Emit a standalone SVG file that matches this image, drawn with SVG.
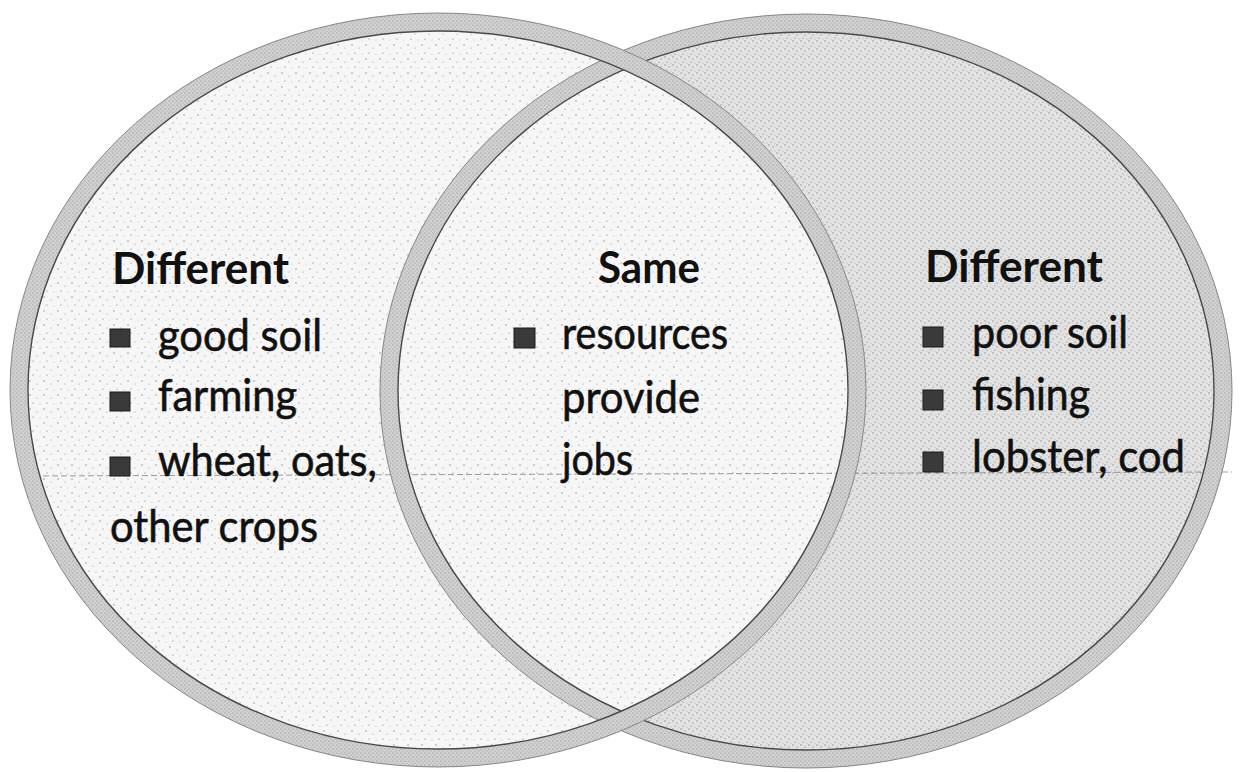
<svg xmlns="http://www.w3.org/2000/svg" width="1241" height="772" viewBox="0 0 1241 772">
<style>
  .hd { font-family: Lato, "Open Sans", "Liberation Sans", sans-serif; font-weight: 700; font-size: 44px; fill: #111; }
  .tx { font-family: Lato, "Open Sans", "Liberation Sans", sans-serif; font-weight: 400; font-size: 44px; fill: #111; stroke: #111; stroke-width: 0.6; }
  .bul { fill: #3a3a3a; stroke: #1a1a1a; stroke-width: 1; }
  .edge { fill: none; stroke: #4a4a4a; stroke-width: 1.4; }
  .edge2 { fill: none; stroke: #888; stroke-width: 1; }
</style>
<defs>
  <pattern id="dotsLight" width="14" height="14" patternUnits="userSpaceOnUse">
    <rect width="14" height="14" fill="#f6f6f6"/>
    <circle cx="2" cy="3" r="0.7" fill="#888"/>
    <circle cx="9" cy="6" r="0.6" fill="#999"/>
    <circle cx="5" cy="11" r="0.6" fill="#777"/>
    <circle cx="12" cy="12" r="0.5" fill="#aaa"/>
  </pattern>
  <pattern id="dotsDark" width="8" height="8" patternUnits="userSpaceOnUse">
    <rect width="8" height="8" fill="#e2e2e2"/>
    <circle cx="1" cy="1" r="0.7" fill="#888"/>
    <circle cx="5" cy="3" r="0.7" fill="#999"/>
    <circle cx="3" cy="6" r="0.6" fill="#777"/>
    <circle cx="7" cy="7" r="0.5" fill="#aaa"/>
  </pattern>
  <pattern id="bandDots" width="4" height="4" patternUnits="userSpaceOnUse">
    <rect width="4" height="4" fill="#d0d0d0"/>
    <circle cx="1" cy="1" r="0.6" fill="#8a8a8a"/>
    <circle cx="3" cy="3" r="0.5" fill="#9a9a9a"/>
  </pattern>
  <clipPath id="clipLeft">
    <ellipse cx="438" cy="390" rx="428" ry="377"/>
  </clipPath>
</defs>

<g id="right-circle">
  <ellipse cx="806" cy="391" rx="426" ry="377" fill="url(#dotsDark)"/>
</g>
<g id="left-circle">
  <ellipse cx="438" cy="390" rx="428" ry="377" fill="url(#dotsLight)"/>
</g>
<g id="overlap">
  <ellipse cx="806" cy="391" rx="426" ry="377" fill="url(#dotsLight)" clip-path="url(#clipLeft)"/>
</g>

<g id="connectors">
  <line x1="25" y1="476" x2="1232" y2="472" stroke="#777" stroke-width="1" stroke-dasharray="6 3" opacity="0.7"/>
</g>

<g id="rings">
  <g id="right-ring">
    <ellipse cx="806" cy="391" rx="417" ry="368" fill="none" stroke="url(#bandDots)" stroke-width="18"/>
    <ellipse cx="806" cy="391" rx="426" ry="377" class="edge2"/>
    <ellipse cx="806" cy="391" rx="408" ry="359" class="edge"/>
  </g>
  <g id="left-ring">
    <ellipse cx="438" cy="390" rx="419" ry="368" fill="none" stroke="url(#bandDots)" stroke-width="18"/>
    <ellipse cx="438" cy="390" rx="428" ry="377" class="edge2"/>
    <ellipse cx="438" cy="390" rx="410" ry="359" class="edge"/>
  </g>
</g>

<g id="left-text">
  <text class="hd" x="112" y="284" textLength="177" lengthAdjust="spacingAndGlyphs">Different</text>
  <rect class="bul" x="110" y="329" width="20" height="18"/>
  <text class="tx" x="158" y="351" textLength="164" lengthAdjust="spacingAndGlyphs">good soil</text>
  <rect class="bul" x="110" y="392" width="20" height="19"/>
  <text class="tx" x="158" y="411" textLength="139" lengthAdjust="spacingAndGlyphs">farming</text>
  <rect class="bul" x="110" y="457" width="20" height="19"/>
  <text class="tx" x="158" y="476" textLength="219" lengthAdjust="spacingAndGlyphs">wheat, oats,</text>
  <text class="tx" x="110" y="542" textLength="208" lengthAdjust="spacingAndGlyphs">other crops</text>
</g>

<g id="center-text">
  <text class="hd" x="598" y="283" textLength="102" lengthAdjust="spacingAndGlyphs">Same</text>
  <rect class="bul" x="514" y="328" width="21" height="20"/>
  <text class="tx" x="562" y="349" textLength="166" lengthAdjust="spacingAndGlyphs">resources</text>
  <text class="tx" x="562" y="413" textLength="138" lengthAdjust="spacingAndGlyphs">provide</text>
  <text class="tx" x="562" y="475" textLength="71" lengthAdjust="spacingAndGlyphs">jobs</text>
</g>

<g id="right-text">
  <text class="hd" x="925" y="282" textLength="178" lengthAdjust="spacingAndGlyphs">Different</text>
  <rect class="bul" x="923" y="327" width="20" height="20"/>
  <text class="tx" x="972" y="348" textLength="156" lengthAdjust="spacingAndGlyphs">poor soil</text>
  <rect class="bul" x="923" y="390" width="20" height="20"/>
  <text class="tx" x="972" y="410" textLength="118" lengthAdjust="spacingAndGlyphs">fishing</text>
  <rect class="bul" x="923" y="452" width="20" height="20"/>
  <text class="tx" x="972" y="472" textLength="213" lengthAdjust="spacingAndGlyphs">lobster, cod</text>
</g>
</svg>
